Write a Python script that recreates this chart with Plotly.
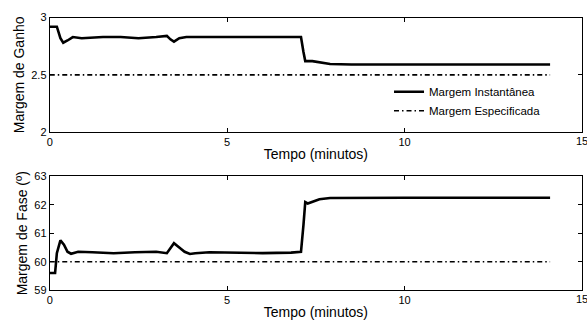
import plotly.graph_objects as go

# Gain margin (instantaneous)
t_gain = [0, 0.2, 0.3, 0.38, 0.5, 0.65, 0.9, 1.5, 2.0, 2.5, 3.0, 3.3, 3.4, 3.5, 3.65, 3.85, 4.2, 5.0, 6.0, 6.8, 7.08, 7.15, 7.2, 7.4, 7.6, 7.9, 8.5, 10, 12, 14.1]
v_gain = [2.92, 2.92, 2.82, 2.78, 2.80, 2.83, 2.82, 2.83, 2.83, 2.82, 2.83, 2.84, 2.81, 2.79, 2.82, 2.83, 2.83, 2.83, 2.83, 2.83, 2.83, 2.70, 2.62, 2.62, 2.61, 2.595, 2.59, 2.59, 2.59, 2.59]

# Phase margin (instantaneous)
t_phase = [0, 0.15, 0.2, 0.3, 0.4, 0.5, 0.6, 0.8, 1.2, 1.8, 2.4, 3.0, 3.3, 3.5, 3.65, 3.8, 3.95, 4.1, 4.5, 5.0, 6.0, 6.8, 7.08, 7.15, 7.2, 7.27, 7.4, 7.6, 7.9, 8.5, 10, 12, 14.1]
v_phase = [59.6, 59.6, 60.3, 60.75, 60.6, 60.35, 60.28, 60.35, 60.33, 60.3, 60.33, 60.35, 60.3, 60.65, 60.5, 60.35, 60.27, 60.3, 60.33, 60.32, 60.3, 60.32, 60.35, 61.3, 62.1, 62.05, 62.12, 62.2, 62.24, 62.25, 62.25, 62.25, 62.25]

# Specified margins
t_spec = [0, 14.1]
v_spec_gain = [2.5, 2.5]
v_spec_phase = [60, 60]

x_ticks = [0, 5, 10, 15]
y_ticks_gain = [2, 2.5, 3]
y_ticks_phase = [59, 60, 61, 62, 63]

font = "Liberation Sans, Arial, sans-serif"
fig = go.Figure()

fig.add_trace(go.Scatter(x=t_gain, y=v_gain, mode="lines", line=dict(color="black", width=2.6),
                         name="Margem Instantânea", xaxis="x", yaxis="y"))
fig.add_trace(go.Scatter(x=t_spec, y=v_spec_gain, mode="lines",
                         line=dict(color="black", width=1.6, dash="5px,3px,1.5px,3px"),
                         name="Margem Especificada", xaxis="x", yaxis="y"))
fig.add_trace(go.Scatter(x=t_phase, y=v_phase, mode="lines", line=dict(color="black", width=2.6),
                         showlegend=False, xaxis="x2", yaxis="y2"))
fig.add_trace(go.Scatter(x=t_spec, y=v_spec_phase, mode="lines",
                         line=dict(color="black", width=1.6, dash="5px,3px,1.5px,3px"),
                         showlegend=False, xaxis="x2", yaxis="y2"))

tick_font = dict(size=11, family=font, color="black")
ax_common = dict(showline=True, linecolor="black", linewidth=1, mirror="ticks", ticks="inside",
                 ticklen=4, tickcolor="black", showgrid=False, zeroline=False,
                 tickfont=tick_font)

fig.update_layout(
    width=587, height=325, margin=dict(l=0, r=0, t=0, b=0),
    plot_bgcolor="white", paper_bgcolor="white",
    font=dict(family=font, color="black"),
    xaxis=dict(domain=[47/587, 582/587], range=[0, 15], tickvals=x_ticks, anchor="y",
               title=dict(text="Tempo (minutos)", font=dict(size=14), standoff=1), **ax_common),
    yaxis=dict(domain=[1-131/325, 1-12/325], range=[2, 3], tickvals=y_ticks_gain, anchor="x",
               title=dict(text="Margem de Ganho", font=dict(size=14), standoff=3), **ax_common),
    xaxis2=dict(domain=[47/587, 582/587], range=[0, 15], tickvals=x_ticks, anchor="y2",
                title=dict(text="Tempo (minutos)", font=dict(size=14), standoff=1), **ax_common),
    yaxis2=dict(domain=[1-295/325, 1-177/325], range=[59, 63], tickvals=y_ticks_phase, anchor="x2",
                title=dict(text="Margem de Fase (º)", font=dict(size=14), standoff=3), **ax_common),
    legend=dict(x=388/587, y=1-74/325, xanchor="left", yanchor="top", bgcolor="rgba(0,0,0,0)",
                font=dict(size=11.5, family=font), itemwidth=30, tracegroupgap=0),
    showlegend=True,
)

# "15" tick label at the right edge (plotly hides overflowing edge labels)
for xr, yr, yv in [("x", "y", 2), ("x2", "y2", 59)]:
    fig.add_annotation(x=x_ticks[-1], y=yv, xref=xr, yref=yr, text=str(x_ticks[-1]), showarrow=False,
                       xanchor="center", yanchor="top", yshift=-1, font=tick_font)

fig.write_html("out.html")
